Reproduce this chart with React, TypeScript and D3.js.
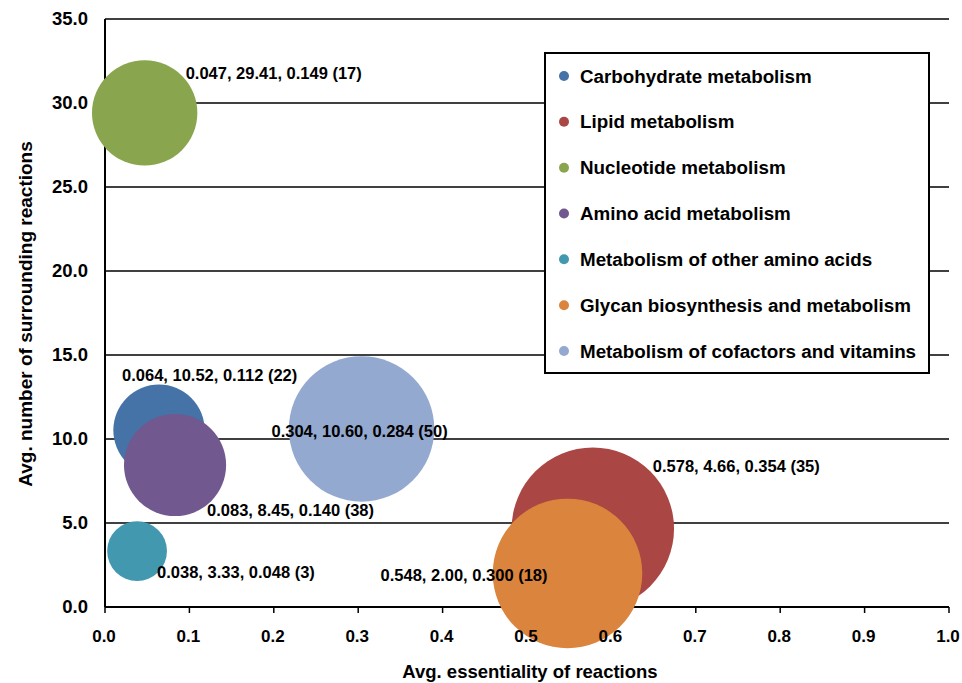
import React from 'react';
import * as d3 from 'd3';

// pathway categories and their bubble values
const categories = [
  'Carbohydrate metabolism',
  'Lipid metabolism',
  'Nucleotide metabolism',
  'Amino acid metabolism',
  'Metabolism of other amino acids',
  'Glycan biosynthesis and metabolism',
  'Metabolism of cofactors and vitamins',
];
const essentiality = [0.064, 0.578, 0.047, 0.083, 0.038, 0.548, 0.304];
const surrounding = [10.52, 4.66, 29.41, 8.45, 3.33, 2.0, 10.6];
const bubbleSize = [0.112, 0.354, 0.149, 0.14, 0.048, 0.3, 0.284];
const counts = [22, 35, 17, 38, 3, 18, 50];

const colors = ['#4572A7', '#AA4643', '#89A54E', '#71588F', '#4198AF', '#DB843D', '#93A9CF'];

const xTicks = [0, 0.1, 0.2, 0.3, 0.4, 0.5, 0.6, 0.7, 0.8, 0.9, 1.0];
const yTicks = [0, 5, 10, 15, 20, 25, 30, 35];

// manual label placement (offset from bubble centre), like the hand-dragged excel labels
const labelPlacement: { dx: number; dy: number; anchor: 'start' | 'middle' | 'end' }[] = [
  { dx: -37, dy: -55, anchor: 'start' },
  { dx: 60, dy: -62, anchor: 'start' },
  { dx: 41, dy: -40, anchor: 'start' },
  { dx: 32, dy: 45, anchor: 'start' },
  { dx: 20, dy: 21, anchor: 'start' },
  { dx: -20, dy: 2, anchor: 'end' },
  { dx: -2, dy: 2, anchor: 'middle' },
];

const W = 962;
const H = 683;
const font = '"Liberation Sans", Arial, sans-serif';

const App: React.FC = () => {
  const x = d3.scaleLinear().domain([0, 1]).range([105, 949]);
  const y = d3.scaleLinear().domain([0, 35]).range([607, 19]);
  const r = d3.scaleSqrt().domain([0, d3.max(bubbleSize) as number]).range([0, 81.2]);

  const points = categories.map((name, i) => ({
    name,
    x: essentiality[i],
    y: surrounding[i],
    size: bubbleSize[i],
    n: counts[i],
    color: colors[i],
  }));

  const fmt3 = d3.format('.3f');
  const fmt2 = d3.format('.2f');

  // legend box
  const lg = { x: 545, y: 53, w: 384, h: 320 };
  const rowY = d3.scaleLinear().domain([0, categories.length - 1]).range([76, 351]);

  return (
    <div style={{ position: 'absolute', left: 0, top: 0 }}>
      <svg width={W} height={H} style={{ display: 'block', background: '#fff' }} fontFamily={font}>
        {/* gridlines */}
        {yTicks.filter(t => t > 0).map(t => (
          <line key={'g' + t} x1={x(0)} x2={x(1)} y1={y(t)} y2={y(t)} stroke="#000" strokeWidth={1.5} />
        ))}
        {/* axes */}
        <line x1={x(0)} x2={x(0)} y1={y(35)} y2={y(0)} stroke="#000" strokeWidth={2} />
        <line x1={x(0)} x2={x(1)} y1={y(0)} y2={y(0)} stroke="#000" strokeWidth={2} />
        {xTicks.map(t => (
          <line key={'t' + t} x1={x(t)} x2={x(t)} y1={y(0)} y2={y(0) + 6} stroke="#000" strokeWidth={1.5} />
        ))}

        {/* bubbles */}
        {points.map(p => (
          <circle key={p.name} cx={x(p.x)} cy={y(p.y)} r={r(p.size)} fill={p.color} />
        ))}

        {/* tick labels */}
        {yTicks.map(t => (
          <text key={'yl' + t} x={x(0) - 17} y={y(t)} dy="0.35em" textAnchor="end"
            fontSize={18.5} fontWeight="bold" fill="#000">{t.toFixed(1)}</text>
        ))}
        {xTicks.map(t => (
          <text key={'xl' + t} x={x(t) - 1} y={642} textAnchor="middle"
            fontSize={17} fontWeight="bold" fill="#000">{t.toFixed(1)}</text>
        ))}

        {/* axis titles */}
        <text x={(x(0) + x(1)) / 2 + 3} y={678} textAnchor="middle" fontSize={18.5} fontWeight="bold">
          Avg. essentiality of reactions
        </text>
        <text transform={`translate(32,${314}) rotate(-90)`} textAnchor="middle" fontSize={19} fontWeight="bold">
          Avg. number of surrounding reactions
        </text>

        {/* data labels */}
        {points.map((p, i) => (
          <text key={'dl' + p.name}
            x={x(p.x) + labelPlacement[i].dx} y={y(p.y) + labelPlacement[i].dy} dy="0.35em"
            textAnchor={labelPlacement[i].anchor} fontSize={16.5} fontWeight="bold" fill="#000">
            {`${fmt3(p.x)}, ${fmt2(p.y)}, ${fmt3(p.size)} (${p.n})`}
          </text>
        ))}

        {/* legend */}
        <rect x={lg.x} y={lg.y} width={lg.w} height={lg.h} fill="#fff" stroke="#000" strokeWidth={2} />
        {points.map((p, i) => (
          <g key={'lg' + p.name} transform={`translate(${lg.x + 19},${rowY(i)})`}>
            <circle r={5} fill={p.color} />
            <text x={16} dy="0.35em" fontSize={18.8} fontWeight="bold" fill="#000">{p.name}</text>
          </g>
        ))}
      </svg>
    </div>
  );
};

export default App;
